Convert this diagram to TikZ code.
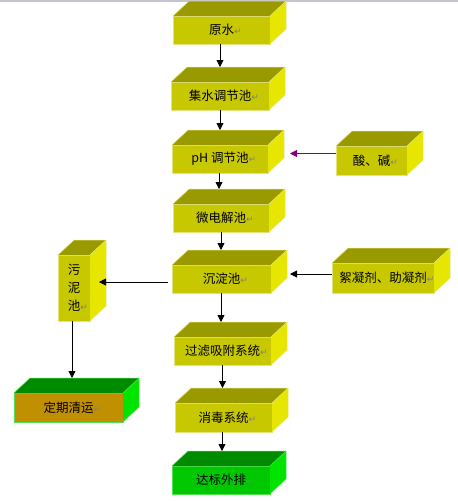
\documentclass[tikz,border=0pt]{standalone}
\usepackage{fontspec}
\newfontfamily\cjk{Noto Sans CJK SC}
\newfontfamily\djv{DejaVu Sans}
\usetikzlibrary{arrows.meta,calc}
\definecolor{fy}{HTML}{C8C800}
\definecolor{ty}{HTML}{999900}
\definecolor{sy}{HTML}{E6E600}
\definecolor{ey}{HTML}{E4E47A}
\definecolor{fg}{HTML}{00C800}
\definecolor{tg}{HTML}{008A00}
\definecolor{sg}{HTML}{00E400}
\definecolor{eg}{HTML}{50E050}
\definecolor{fo}{HTML}{C09000}
\definecolor{pa}{HTML}{800080}
\definecolor{topline}{HTML}{C4C4CC}
\newcommand\pmark{\rlap{\djv\fontsize{9}{9}\selectfont\textcolor[HTML]{808080}{↵}}}
\newcommand\dxv{16}
\newcommand\dyv{15}
% name, center x, center y, width, height, front, top, side, edge
\newcommand\cube[9]{%
  \node[box, fill=#6, draw=#9, minimum width=#4pt, minimum height=#5pt] (#1) at (#2,#3) {};
  \fill[#7] (#1.north west) -- ($(#1.north west)+(\dxv,-\dyv)$) -- ($(#1.north east)+(\dxv,-\dyv)$) -- (#1.north east) -- cycle;
  \fill[#8] (#1.north east) -- ($(#1.north east)+(\dxv,-\dyv)$) -- ($(#1.south east)+(\dxv,-\dyv)$) -- (#1.south east) -- cycle;
  \draw[#9, line width=0.5pt] (#1.north west) -- ($(#1.north west)+(\dxv,-\dyv)$) -- ($(#1.north east)+(\dxv,-\dyv)$) -- ($(#1.south east)+(\dxv,-\dyv)$) -- (#1.south east);
  \draw[#9, line width=0.5pt] (#1.north east) -- ($(#1.north east)+(\dxv,-\dyv)$);
  \coordinate (#1-in) at ($(#1.north)+(0,-\dyv)$);
}
\begin{document}
\begin{tikzpicture}[x=1pt,y=-1pt,
  box/.style={rectangle, inner sep=0pt, outer sep=0pt, line width=0.5pt},
  lbl/.style={font=\cjk\fontsize{12.5}{14}\selectfont, text=black, align=center},
  arr/.style={draw=black, line width=0.8pt, -{Triangle[length=7pt,width=7pt]}},
  parr/.style={draw=pa, line width=0.8pt, -{Triangle[length=7pt,width=7pt]}}]
\useasboundingbox (0,0) rectangle (458,501);
\fill[white] (0,0) rectangle (458,501);
\fill[topline] (0,0) rectangle (458,1.8);

\cube{s1}{221.5}{30}{97}{28}{fy}{ty}{sy}{ey}
\cube{s2}{220}{96}{98}{28}{fy}{ty}{sy}{ey}
\cube{s3}{220}{159}{96}{28}{fy}{ty}{sy}{ey}
\cube{s4}{221}{218}{96}{28}{fy}{ty}{sy}{ey}
\cube{s5}{221.5}{279}{99}{28}{fy}{ty}{sy}{ey}
\cube{sl}{74}{288}{32}{66}{fy}{ty}{sy}{ey}
\cube{s6}{222.5}{351}{97}{28}{fy}{ty}{sy}{ey}
\cube{s7}{223.5}{417.5}{97}{29}{fy}{ty}{sy}{ey}
\cube{s8}{221}{480}{98}{28}{fg}{tg}{sg}{eg}
\cube{dq}{68.5}{407.5}{109}{29}{fo}{tg}{sg}{eg}
\cube{ac}{371.5}{160.5}{71}{29}{fy}{ty}{sy}{ey}
\cube{fl}{383}{278}{102}{30}{fy}{ty}{sy}{ey}

\node[lbl] (t1) at (s1) {原水\pmark};
\node[lbl] (t2) at (s2) {集水调节池\pmark};
\node[lbl] (t3) at (s3) {pH 调节池\pmark};
\node[lbl] (t4) at (s4) {微电解池\pmark};
\node[lbl] (t5) at (s5) {沉淀池\pmark};
\node[lbl, font=\cjk\fontsize{12.5}{18}\selectfont] (tl) at (sl) {污\\泥\\池\pmark};
\node[lbl] (t6) at (s6) {过滤吸附系统\pmark};
\node[lbl] (t7) at (s7) {消毒系统\pmark};
\node[lbl] (t8) at (s8) {达标外排\pmark};
\node[lbl] (tq) at (dq) {定期清运\pmark};
\node[lbl] (ta) at (ac) {酸、碱\pmark};
\node[lbl] (tf) at (fl) {絮凝剂、助凝剂\pmark};

\draw[arr] ([xshift=-1.5pt]s1.south) -- ([xshift=-1.5pt]s1.south |- s2-in);
\draw[arr] (s2.south) -- (s2.south |- s3-in);
\draw[arr] ([xshift=-1pt]s3.south) -- ([xshift=-1pt]s3.south |- s4-in);
\draw[arr] (s4.south) -- (s4.south |- s5-in);
\draw[arr] ([xshift=-0.5pt]s5.south) -- ([xshift=-0.5pt]s5.south |- s6-in);
\draw[arr] (s6.south) -- (s6.south |- s7-in);
\draw[arr] ([xshift=-1.5pt]s7.south) -- ([xshift=-1.5pt]s7.south |- s8-in);
\coordinate (slin) at ([xshift=13pt]sl.east);
\draw[arr] ([xshift=-4pt,yshift=-3pt]s5.west) -- ([xshift=-4pt,yshift=-3pt]s5.west -| slin);
\draw[arr] ([xshift=-2pt]sl.south) -- ([xshift=-2pt]sl.south |- dq-in);
\coordinate (s3r) at ([xshift=22pt]s3.east);
\draw[parr] ([yshift=7pt]ac.west) -- ([yshift=7pt]ac.west -| s3r);
\coordinate (s5r) at ([xshift=19pt]s5.east);
\draw[arr] ([yshift=4pt]fl.west) -- ([yshift=4pt]fl.west -| s5r);
\end{tikzpicture}
\end{document}
